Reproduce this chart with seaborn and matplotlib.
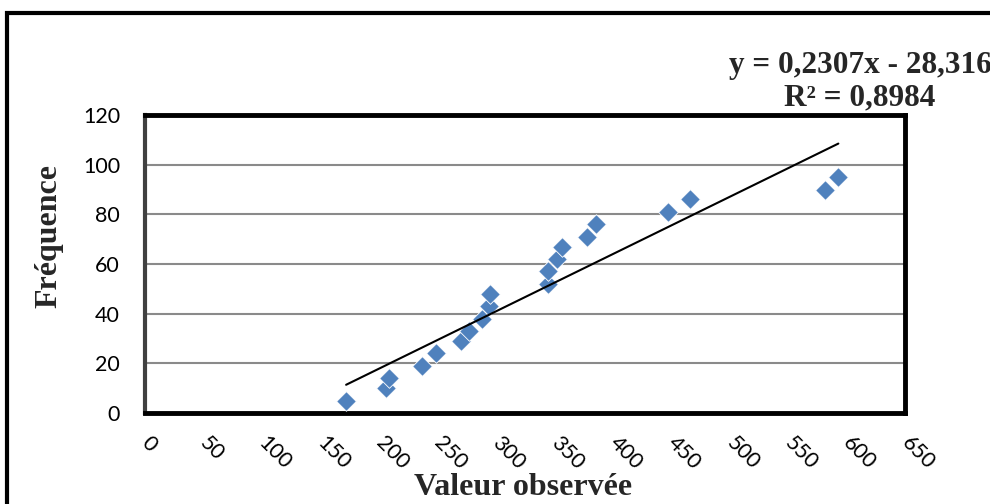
import matplotlib
matplotlib.use("Agg")
import matplotlib.pyplot as plt
from matplotlib.patches import Rectangle
import numpy as np
import pandas as pd
import seaborn as sns

# Observed values and their cumulative frequencies
valeurs = [172, 206, 209, 237, 249, 270, 277, 288, 294, 295,
           345, 345, 352, 357, 378, 386, 447, 466, 582, 593]
frequences = [5, 10, 14, 19, 24, 29, 33, 38, 43, 48,
              52, 57, 62, 67, 71, 76, 81, 86, 90, 95]

# Linear trend line coefficients (as printed on the chart)
pente = 0.2307
ordonnee = -28.316
r2 = 0.8984

x_ticks = list(range(0, 651, 50))
y_ticks = list(range(0, 121, 20))

df = pd.DataFrame({"Valeur observée": valeurs, "Fréquence": frequences})

sns.set_theme(style="white")
plt.rcParams["font.family"] = ["Lato", "DejaVu Sans"]

W, H = 990, 504
fig = plt.figure(figsize=(W / 100, H / 100), dpi=100)
ax = fig.add_axes([145 / W, 1 - 413 / H, 760 / W, 298 / H])

# Horizontal grid
ax.set_axisbelow(True)
ax.yaxis.grid(True, color="#8a8a8a", linewidth=1.5)
ax.xaxis.grid(False)

sns.scatterplot(data=df, x="Valeur observée", y="Fréquence", marker="D",
                s=100, color="#4F81BD", edgecolor="white", linewidth=0.6,
                ax=ax, zorder=3)

# Trend line across the data range
xt = np.array([min(valeurs), max(valeurs)])
ax.plot(xt, pente * xt + ordonnee, color="black", linewidth=1.5, zorder=4)

ax.set_xlim(0, 650)
ax.set_ylim(0, 120)
ax.set_xticks(x_ticks)
ax.set_yticks(y_ticks)
ax.set_xlabel("")
ax.set_ylabel("")

for side in ["top", "right", "bottom"]:
    ax.spines[side].set_color("black")
    ax.spines[side].set_linewidth(3.5)
ax.spines["left"].set_color("#404040")
ax.spines["left"].set_linewidth(3)

ax.tick_params(axis="both", direction="out", length=8, width=1.5,
               color="#8a8a8a", labelsize=15.5, labelcolor="black")
ax.tick_params(axis="y", pad=10)
ax.tick_params(axis="x", pad=11)
for lab in ax.get_xticklabels():
    lab.set_rotation(-45)
    lab.set_rotation_mode("anchor")
    lab.set_ha("left")
    lab.set_va("center")

serif = ["Liberation Serif", "DejaVu Serif"]
fig.text(49 / W, 1 - 236 / H, "Fréquence", rotation=90, ha="center",
         va="center", fontsize=23, fontweight="bold", family=serif)
fig.text(523 / W, 1 - 495 / H, "Valeur observée", ha="center",
         va="baseline", fontsize=23, fontweight="bold", family=serif)

eq = f"y = {pente:.4f}x - {abs(ordonnee):.3f}".replace(".", ",")
r2_txt = f"R² = {r2:.4f}".replace(".", ",")
fig.text(860 / W, 1 - 73 / H, eq, ha="center", va="baseline",
         fontsize=22.5, fontweight="bold", family=serif)
fig.text(860 / W, 1 - 105 / H, r2_txt, ha="center", va="baseline",
         fontsize=22.5, fontweight="bold", family=serif)

# Outer chart frame
fig.patches.append(Rectangle((6.5 / W, -0.1), 1.2, 1.1 - 13.5 / H,
                             transform=fig.transFigure, fill=False,
                             edgecolor="black", linewidth=3))

fig.savefig("out.png", dpi=100)
